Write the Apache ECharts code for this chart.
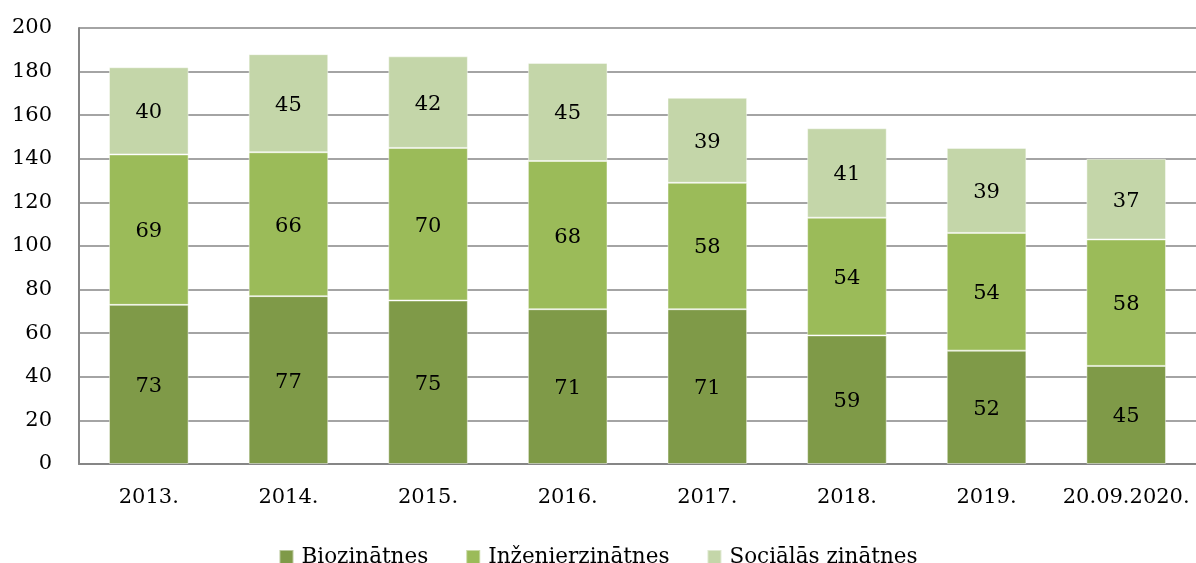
<!DOCTYPE html>
<html>
<head>
<meta charset="utf-8">
<script src="https://cdn.jsdelivr.net/npm/echarts@6/dist/echarts.min.js"></script>
<style>
  html, body { margin: 0; padding: 0; background: #fff; }
  #chart { width: 1196px; height: 563px; }
</style>
</head>
<body>
<div id="chart"></div>
<script>
const categories = ['2013.', '2014.', '2015.', '2016.', '2017.', '2018.', '2019.', '20.09.2020.']
const bio = [73, 77, 75, 71, 71, 59, 52, 45]
const inz = [69, 66, 70, 68, 58, 54, 54, 58]
const soc = [40, 45, 42, 45, 39, 41, 39, 37]

const fontFamily = '"DejaVu Serif", "Liberation Serif", serif'

const makeSeries = (name, data, color) => ({
  name: name,
  type: 'bar',
  stack: 'total',
  data: data,
  barWidth: '57%',
  itemStyle: { color: color, borderColor: 'rgba(255,255,255,0.45)', borderWidth: 1 },
  label: {
    show: true,
    position: 'inside',
    offset: [0, 2],
    color: '#000',
    fontFamily: fontFamily,
    fontSize: 21
  }
})

const chart = echarts.init(document.getElementById('chart'))
chart.setOption({
  animation: false,
  textStyle: { fontFamily: fontFamily },
  grid: { left: 79, right: 0, top: 28, bottom: 99, containLabel: false },
  legend: {
    top: 541,
    left: 'center',
    itemWidth: 14,
    itemHeight: 14,
    itemGap: 37,
    icon: 'rect',
    textStyle: { fontSize: 21.5, color: '#000', fontFamily: fontFamily, padding: [0, 0, 0, 3] }
  },
  xAxis: {
    type: 'category',
    data: categories,
    axisLine: { lineStyle: { color: '#868686', width: 2 } },
    axisTick: { show: false },
    axisLabel: { color: '#000', fontSize: 21, margin: 23, interval: 0 }
  },
  yAxis: {
    type: 'value',
    min: 0,
    max: 200,
    interval: 20,
    axisLine: { show: true, lineStyle: { color: '#868686', width: 2 } },
    axisTick: { show: false },
    splitLine: { lineStyle: { color: '#868686', width: 1.5 } },
    axisLabel: { color: '#000', fontSize: 21, margin: 27 }
  },
  series: [
    makeSeries('Biozinātnes', bio, '#7f9a48'),
    makeSeries('Inženierzinātnes', inz, '#9bbb59'),
    makeSeries('Sociālās zinātnes', soc, '#c4d6a9')
  ]
})
</script>
</body>
</html>
